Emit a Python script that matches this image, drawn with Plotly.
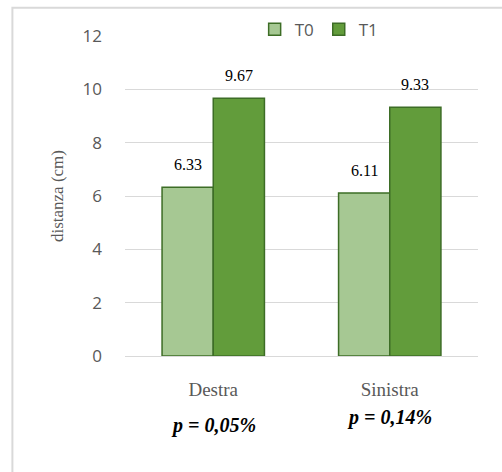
import plotly.graph_objects as go

categories = ["Destra", "Sinistra"]
t0_values = [6.33, 6.11]
t1_values = [9.67, 9.33]
p_labels = ["p = 0,05%", "p = 0,14%"]
y_ticks = [0, 2, 4, 6, 8, 10, 12]

T0_FILL = "#a6c893"
T1_FILL = "#629c3b"
EDGE = "#3d6d26"
SERIF = "Liberation Serif, Times New Roman, serif"
SANS = "Open Sans, Noto Sans, sans-serif"

fig = go.Figure()
fig.add_trace(go.Bar(name="T0", x=categories, y=t0_values,
                     marker=dict(color=T0_FILL, line=dict(color=EDGE, width=1.5))))
fig.add_trace(go.Bar(name="T1", x=categories, y=t1_values,
                     marker=dict(color=T1_FILL, line=dict(color=EDGE, width=1.5))))

annotations = []
# value labels above each bar
for i, cat in enumerate(categories):
    for j, vals in enumerate([t0_values, t1_values]):
        annotations.append(dict(
            x=cat, y=vals[i], xref="x", yref="y",
            text=f"{vals[i]:.2f}", showarrow=False,
            xshift=(-25.5 if j == 0 else 25.5), yshift=23,
            font=dict(family=SERIF, size=16, color="#000000")))
# significance notes under the categories
p_shift = [-69, -61]
for i, cat in enumerate(categories):
    annotations.append(dict(
        x=cat, y=0, xref="x", yref="y", text=f"<b><i>{p_labels[i]}</i></b>",
        showarrow=False, yshift=p_shift[i],
        font=dict(family=SERIF, size=20, color="#000000")))

fig.update_layout(
    width=502, height=472,
    margin=dict(l=125, r=24, t=36, b=116, autoexpand=False),
    paper_bgcolor="white", plot_bgcolor="white",
    barmode="group", bargap=0.42, bargroupgap=0,
    showlegend=True,
    legend=dict(orientation="h", x=0.55, xanchor="center", y=1.02, yanchor="middle",
                font=dict(family=SANS, size=17, color="#595959"),
                bgcolor="rgba(0,0,0,0)", itemwidth=30, tracegroupgap=0),
    annotations=annotations,
    shapes=[dict(type="rect", xref="paper", yref="paper",
                 x0=-0.319, x1=1.1, y0=-0.4, y1=1.088,
                 line=dict(color="#d9d9d9", width=2), layer="above")],
    xaxis=dict(showline=False, ticks="", ticklabelstandoff=20,
               tickfont=dict(family=SERIF, size=19, color="#595959")),
    yaxis=dict(range=[0, 12], tickvals=y_ticks, showgrid=True, gridcolor="#d9d9d9",
               gridwidth=1, zeroline=True, zerolinecolor="#d9d9d9", zerolinewidth=1,
               showline=False, ticklabelstandoff=22,
               tickfont=dict(family=SANS, size=17, color="#595959"),
               title=dict(text="distanza (cm)", standoff=14,
                          font=dict(family=SERIF, size=17, color="#595959"))),
)

fig.write_html("out.html")
